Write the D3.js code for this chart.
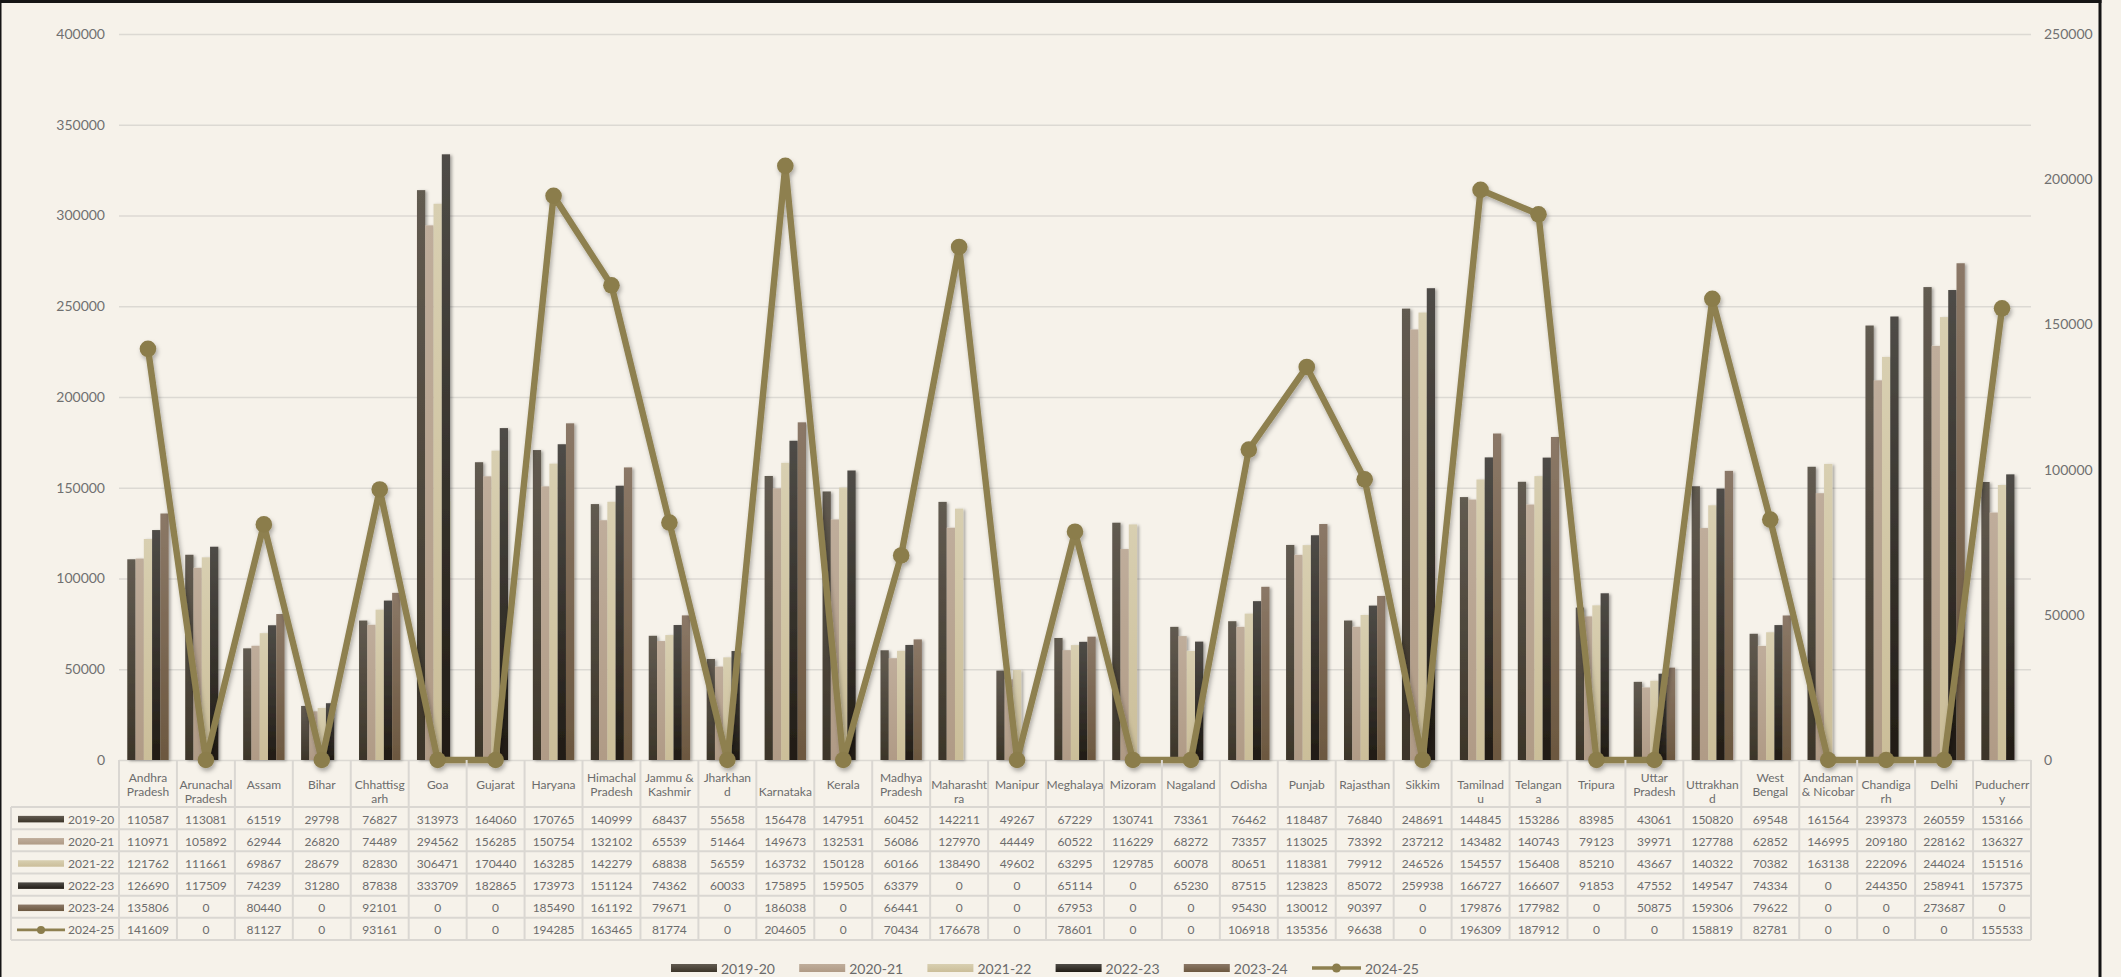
<!DOCTYPE html>
<html>
<head>
<meta charset="utf-8">
<script src="https://cdn.jsdelivr.net/npm/d3@7"></script>
<style>
  html, body { margin: 0; padding: 0; background: #f6f2ea; }
  svg { display: block; }
  text { font-family: Lato, "Open Sans", sans-serif; }
</style>
</head>
<body>
<svg id="chart" width="2121" height="977"></svg>
<script>
// ---- data ----
const categories = ["Andhra Pradesh","Arunachal Pradesh","Assam","Bihar","Chhattisgarh","Goa","Gujarat","Haryana","Himachal Pradesh","Jammu & Kashmir","Jharkhand","Karnataka","Kerala","Madhya Pradesh","Maharashtra","Manipur","Meghalaya","Mizoram","Nagaland","Odisha","Punjab","Rajasthan","Sikkim","Tamilnadu","Telangana","Tripura","Uttar Pradesh","Uttrakhand","West Bengal","Andaman & Nicobar","Chandigarh","Delhi","Puducherry"];

// column header text as wrapped in the data table
const headerLabels = ["Andhra\nPradesh","\nArunachal\nPradesh","Assam","Bihar","\nChhattisg\narh","Goa","Gujarat","Haryana","Himachal\nPradesh","Jammu &\nKashmir","Jharkhan\nd","\nKarnataka","Kerala","Madhya\nPradesh","\nMaharasht\nra","Manipur","Meghalaya","Mizoram","Nagaland","Odisha","Punjab","Rajasthan","Sikkim","\nTamilnad\nu","\nTelangan\na","Tripura","Uttar\nPradesh","\nUttrakhan\nd","West\nBengal","Andaman\n& Nicobar","\nChandiga\nrh","Delhi","\nPuducherr\ny"];

const seriesNames = ["2019-20","2020-21","2021-22","2022-23","2023-24","2024-25"];
const barSeriesNames = ["2019-20","2020-21","2021-22","2022-23","2023-24"];
const lineSeriesName = "2024-25";

const values2019_20 = [110587,113081,61519,29798,76827,313973,164060,170765,140999,68437,55658,156478,147951,60452,142211,49267,67229,130741,73361,76462,118487,76840,248691,144845,153286,83985,43061,150820,69548,161564,239373,260559,153166];
const values2020_21 = [110971,105892,62944,26820,74489,294562,156285,150754,132102,65539,51464,149673,132531,56086,127970,44449,60522,116229,68272,73357,113025,73392,237212,143482,140743,79123,39971,127788,62852,146995,209180,228162,136327];
const values2021_22 = [121762,111661,69867,28679,82830,306471,170440,163285,142279,68838,56559,163732,150128,60166,138490,49602,63295,129785,60078,80651,118381,79912,246526,154557,156408,85210,43667,140322,70382,163138,222096,244024,151516];
const values2022_23 = [126690,117509,74239,31280,87838,333709,182865,173973,151124,74362,60033,175895,159505,63379,0,0,65114,0,65230,87515,123823,85072,259938,166727,166607,91853,47552,149547,74334,0,244350,258941,157375];
const values2023_24 = [135806,0,80440,0,92101,0,0,185490,161192,79671,0,186038,0,66441,0,0,67953,0,0,95430,130012,90397,0,179876,177982,0,50875,159306,79622,0,0,273687,0];
const values2024_25 = [141609,0,81127,0,93161,0,0,194285,163465,81774,0,204605,0,70434,176678,0,78601,0,0,106918,135356,96638,0,196309,187912,0,0,158819,82781,0,0,0,155533];

const leftTicks = [0,50000,100000,150000,200000,250000,300000,350000,400000];
const rightTicks = [0,50000,100000,150000,200000,250000];

const seriesValues = {
  "2019-20": values2019_20,
  "2020-21": values2020_21,
  "2021-22": values2021_22,
  "2022-23": values2022_23,
  "2023-24": values2023_24,
  "2024-25": values2024_25
};

// ---- styling ----
const barGradients = {
  "2019-20": ["#625b51", "#3c3529"],
  "2020-21": ["#bfad9b", "#b09b86"],
  "2021-22": ["#d8cfb1", "#cbbe99"],
  "2022-23": ["#4f4c47", "#211c15"],
  "2023-24": ["#8b7867", "#6c5840"]
};
const lineColor = "#8e8050";
const markerColor = "#8b7d4c";
const textColor = "#6c6c6c";
const gridColor = "#dcd9d3";

const svg = d3.select("#chart");
const W = 2121, H = 977;

const plot = { left: 119, right: 2031, top: 34, bottom: 760 };
const table = { keyLeft: 11, headerBottom: 807, bottom: 940 };

// ---- defs: gradients and shadows ----
const defs = svg.append("defs");
barSeriesNames.forEach((s, i) => {
  const g = defs.append("linearGradient")
    .attr("id", "grad" + i)
    .attr("x1", 0).attr("y1", 0).attr("x2", 0).attr("y2", 1);
  g.append("stop").attr("offset", "0%").attr("stop-color", barGradients[s][0]);
  g.append("stop").attr("offset", "100%").attr("stop-color", barGradients[s][1]);
});
const barShadow = defs.append("filter").attr("id", "barShadow")
  .attr("x", "-20%").attr("y", "-5%").attr("width", "140%").attr("height", "110%");
barShadow.append("feDropShadow").attr("dx", 2).attr("dy", 1)
  .attr("stdDeviation", 1.8).attr("flood-color", "#000").attr("flood-opacity", 0.32);
const lineShadow = defs.append("filter").attr("id", "lineShadow")
  .attr("x", "-5%").attr("y", "-5%").attr("width", "110%").attr("height", "115%");
lineShadow.append("feDropShadow").attr("dx", 1.5).attr("dy", 3)
  .attr("stdDeviation", 2.2).attr("flood-color", "#000").attr("flood-opacity", 0.3);

// ---- background ----
svg.append("rect").attr("width", W).attr("height", H).attr("fill", "#f6f2ea");

// ---- scales ----
const x = d3.scaleBand(categories, [plot.left, plot.right]).paddingInner(0).paddingOuter(0);
const xBar = d3.scaleBand(barSeriesNames, [0, x.bandwidth()]).paddingInner(0).paddingOuter(1);
const y = d3.scaleLinear([0, 400000], [plot.bottom, plot.top]);
const y2 = d3.scaleLinear([0, 250000], [plot.bottom, plot.top]);
const row = d3.scaleBand(seriesNames, [table.headerBottom, table.bottom]);

// ---- gridlines ----
const grid = svg.append("g")
  .attr("transform", `translate(${plot.left},0)`)
  .call(d3.axisLeft(y).tickValues(leftTicks).tickSize(-(plot.right - plot.left)).tickFormat(""));
grid.select(".domain").remove();
grid.selectAll("line").attr("stroke", gridColor).attr("stroke-width", 1.6);

// ---- axes ----
const leftAxis = svg.append("g")
  .attr("transform", `translate(${plot.left},0)`)
  .call(d3.axisLeft(y).tickValues(leftTicks).tickSize(0).tickPadding(14).tickFormat(d3.format("d")));
leftAxis.select(".domain").remove();
leftAxis.selectAll("text").attr("font-family", "Lato").attr("font-size", 14).attr("fill", "#707070");

const rightAxis = svg.append("g")
  .attr("transform", `translate(${plot.right},0)`)
  .call(d3.axisRight(y2).tickValues(rightTicks).tickSize(0).tickPadding(13).tickFormat(d3.format("d")));
rightAxis.select(".domain").remove();
rightAxis.selectAll("text").attr("font-family", "Lato").attr("font-size", 14).attr("fill", "#707070");

// ---- bars ----
const barData = [];
barSeriesNames.forEach((s, si) => {
  categories.forEach((c, ci) => {
    barData.push({ series: s, si, category: c, value: seriesValues[s][ci] });
  });
});
svg.append("g").attr("filter", "url(#barShadow)")
  .selectAll("rect")
  .data(barData.filter(d => d.value > 0))
  .join("rect")
  .attr("x", d => x(d.category) + xBar(d.series))
  .attr("width", xBar.bandwidth())
  .attr("y", d => y(d.value))
  .attr("height", d => y(0) - y(d.value))
  .attr("fill", d => `url(#grad${d.si})`);

// ---- line series on secondary axis ----
const linePts = categories.map((c, i) => ({ category: c, value: seriesValues[lineSeriesName][i] }));
const lineGen = d3.line()
  .x(d => x(d.category) + x.bandwidth() / 2)
  .y(d => y2(d.value));
const lineG = svg.append("g").attr("filter", "url(#lineShadow)");
lineG.append("path")
  .datum(linePts)
  .attr("d", lineGen)
  .attr("fill", "none")
  .attr("stroke", lineColor)
  .attr("stroke-width", 6.4)
  .attr("stroke-linejoin", "round")
  .attr("stroke-linecap", "round");
lineG.selectAll("circle")
  .data(linePts)
  .join("circle")
  .attr("cx", d => x(d.category) + x.bandwidth() / 2)
  .attr("cy", d => y2(d.value))
  .attr("r", 8.3)
  .attr("fill", markerColor);

// ---- data table ----
const tableG = svg.append("g");
const tableLine = "#dad7d2";

// horizontal rules
const hRules = [table.headerBottom].concat(seriesNames.map(s => row(s) + row.bandwidth()));
tableG.selectAll("line.h")
  .data(hRules)
  .join("line")
  .attr("class", "h")
  .attr("x1", table.keyLeft).attr("x2", plot.right)
  .attr("y1", d => d).attr("y2", d => d)
  .attr("stroke", tableLine).attr("stroke-width", 2);

// vertical rules
const vRules = categories.map(c => x(c)).concat([plot.right]);
tableG.selectAll("line.v")
  .data(vRules)
  .join("line")
  .attr("class", "v")
  .attr("x1", d => d).attr("x2", d => d)
  .attr("y1", plot.bottom).attr("y2", table.bottom)
  .attr("stroke", tableLine).attr("stroke-width", 2);
tableG.append("line")
  .attr("x1", table.keyLeft).attr("x2", table.keyLeft)
  .attr("y1", table.headerBottom).attr("y2", table.bottom)
  .attr("stroke", tableLine).attr("stroke-width", 2);

// header labels
const headerMid = (plot.bottom + table.headerBottom) / 2 + 1;
const hdr = tableG.selectAll("text.hdr")
  .data(categories.map((c, i) => ({ category: c, lines: headerLabels[i].split("\n") })))
  .join("text")
  .attr("class", "hdr")
  .attr("text-anchor", "middle")
  .attr("font-size", 12)
  .attr("fill", textColor);
hdr.selectAll("tspan")
  .data(d => d.lines.map((t, k) => ({ t, k, n: d.lines.length, category: d.category })))
  .join("tspan")
  .attr("x", d => x(d.category) + x.bandwidth() / 2)
  .attr("y", d => headerMid + (d.k - (d.n - 1) / 2) * 14)
  .attr("dominant-baseline", "central")
  .text(d => d.t);

// value cells
const cellData = [];
seriesNames.forEach(s => {
  categories.forEach((c, ci) => cellData.push({ series: s, category: c, value: seriesValues[s][ci] }));
});
tableG.selectAll("text.cell")
  .data(cellData)
  .join("text")
  .attr("class", "cell")
  .attr("x", d => x(d.category) + x.bandwidth() / 2)
  .attr("y", d => row(d.series) + row.bandwidth() / 2 + 1)
  .attr("text-anchor", "middle")
  .attr("dominant-baseline", "central")
  .attr("font-size", 12)
  .attr("fill", textColor)
  .text(d => d.value);

// series key column
const keyG = tableG.selectAll("g.key")
  .data(seriesNames)
  .join("g")
  .attr("class", "key")
  .attr("transform", s => `translate(0,${row(s) + row.bandwidth() / 2 + 1})`);
keyG.filter(s => s !== lineSeriesName)
  .append("rect")
  .attr("x", 18).attr("y", -3.2).attr("width", 46).attr("height", 6.5)
  .attr("fill", s => `url(#grad${barSeriesNames.indexOf(s)})`);
const keyLine = keyG.filter(s => s === lineSeriesName);
keyLine.append("line")
  .attr("x1", 17).attr("x2", 65).attr("y1", 0).attr("y2", 0)
  .attr("stroke", lineColor).attr("stroke-width", 2.6);
keyLine.append("circle").attr("cx", 41).attr("cy", 0).attr("r", 4).attr("fill", markerColor);
keyG.append("text")
  .attr("x", 68).attr("y", 0)
  .attr("dominant-baseline", "central")
  .attr("font-size", 12)
  .attr("fill", textColor)
  .text(s => s);

// ---- legend ----
const legendX = d3.scaleBand(seriesNames, [671, 671 + 128.2 * 6]).paddingInner(0).paddingOuter(0);
const legendY = 968;
const lg = svg.append("g").selectAll("g")
  .data(seriesNames)
  .join("g")
  .attr("transform", s => `translate(${legendX(s)},${legendY})`);
lg.filter(s => s !== lineSeriesName)
  .append("rect")
  .attr("x", 0).attr("y", -4).attr("width", 46).attr("height", 8)
  .attr("fill", s => `url(#grad${barSeriesNames.indexOf(s)})`);
const lgLine = lg.filter(s => s === lineSeriesName);
lgLine.append("line")
  .attr("x1", 0).attr("x2", 49).attr("y1", 0).attr("y2", 0)
  .attr("stroke", lineColor).attr("stroke-width", 3.5);
lgLine.append("circle").attr("cx", 24.5).attr("cy", 0).attr("r", 4.5).attr("fill", markerColor);
lg.append("text")
  .attr("x", s => s === lineSeriesName ? 53 : 50)
  .attr("y", 0)
  .attr("dominant-baseline", "central")
  .attr("font-size", 14)
  .attr("fill", "#6a6a6a")
  .text(s => s);

// ---- outer frame ----
const frame = svg.append("g").attr("stroke", "#151515");
frame.append("line").attr("x1", 0).attr("x2", 2101.5).attr("y1", 1.5).attr("y2", 1.5).attr("stroke-width", 3);
frame.append("line").attr("x1", 0.75).attr("x2", 0.75).attr("y1", 0).attr("y2", H).attr("stroke-width", 1.5);
frame.append("line").attr("x1", 2100).attr("x2", 2100).attr("y1", 0).attr("y2", H).attr("stroke-width", 3);
</script>
</body>
</html>
